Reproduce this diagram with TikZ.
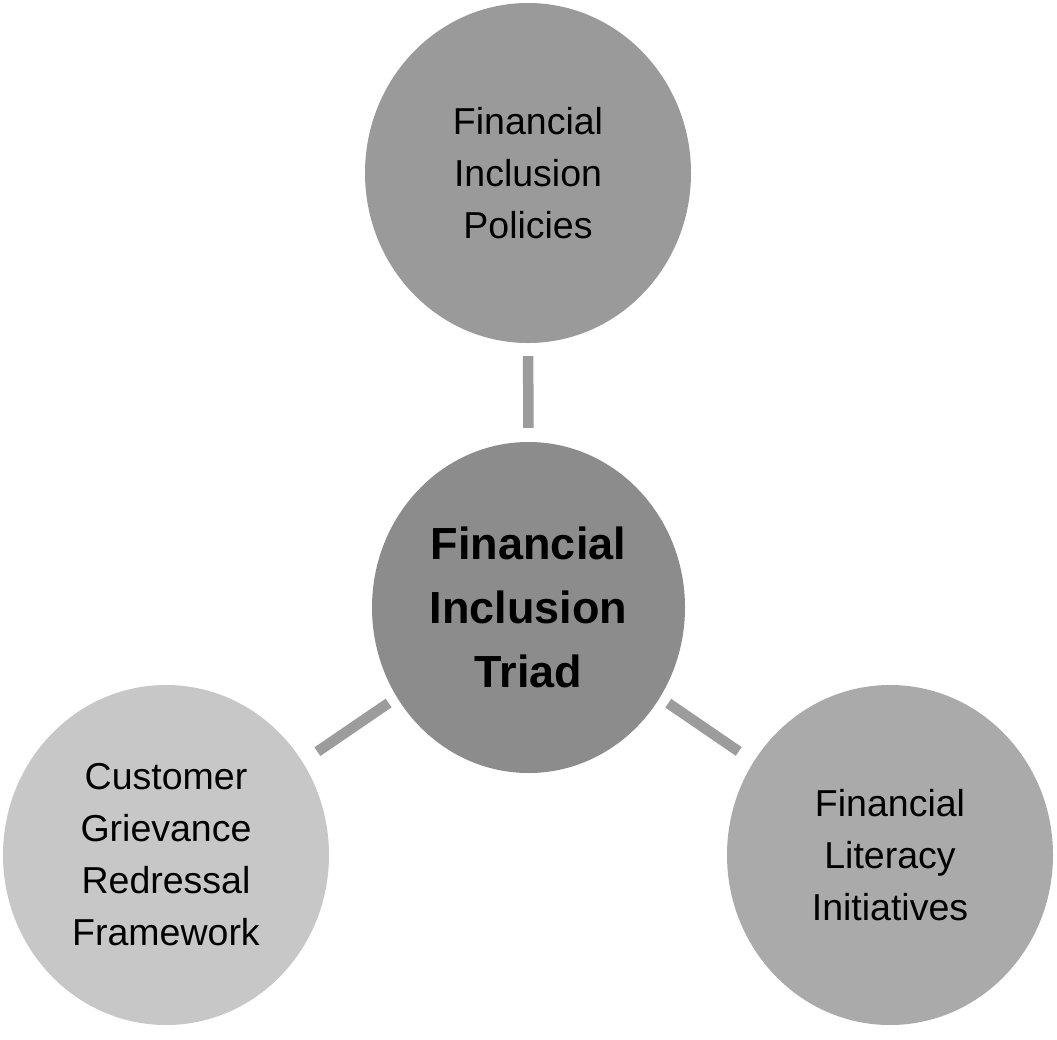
\documentclass[tikz,border=0pt]{standalone}
\usepackage{fontspec}
\setmainfont{Liberation Sans}
\usetikzlibrary{shapes.geometric}
\definecolor{ctop}{HTML}{9A9A9A}
\definecolor{cmid}{HTML}{8C8C8C}
\definecolor{cleft}{HTML}{C7C7C7}
\definecolor{cright}{HTML}{AAAAAA}
\definecolor{cline}{HTML}{9C9C9C}
\tikzset{
  bubble/.style={ellipse, inner sep=0pt, align=center, text=black,
    minimum width=326pt, minimum height=340pt,
    font=\fontsize{37.5}{52}\selectfont},
  hub/.style={ellipse, inner sep=0pt, align=center, text=black,
    minimum width=313pt, minimum height=331pt,
    font=\fontsize{45}{64}\selectfont\bfseries},
  link/.style={draw=cline, line width=10.5pt, line cap=butt}
}
\begin{document}
\begin{tikzpicture}[x=1pt,y=-1pt]
\useasboundingbox[fill=white] (0,0) rectangle (1057,1039);
\node[hub, fill=cmid] (hub) at (528.5,607.5) {Financial\\Inclusion\\Triad};
\node[bubble, fill=ctop] (top) at (528,173) {Financial\\Inclusion\\Policies};
\node[bubble, fill=cleft] (left) at (166,855) {Customer\\Grievance\\Redressal\\Framework};
\node[bubble, fill=cright] (right) at (890,855) {Financial\\Literacy\\Initiatives};
\draw[link, shorten <=13pt, shorten >=14pt] (top) -- (hub);
\draw[link, shorten <=18pt, shorten >=10pt] (left) -- (hub);
\draw[link, shorten <=18pt, shorten >=10pt] (right) -- (hub);
\end{tikzpicture}
\end{document}
